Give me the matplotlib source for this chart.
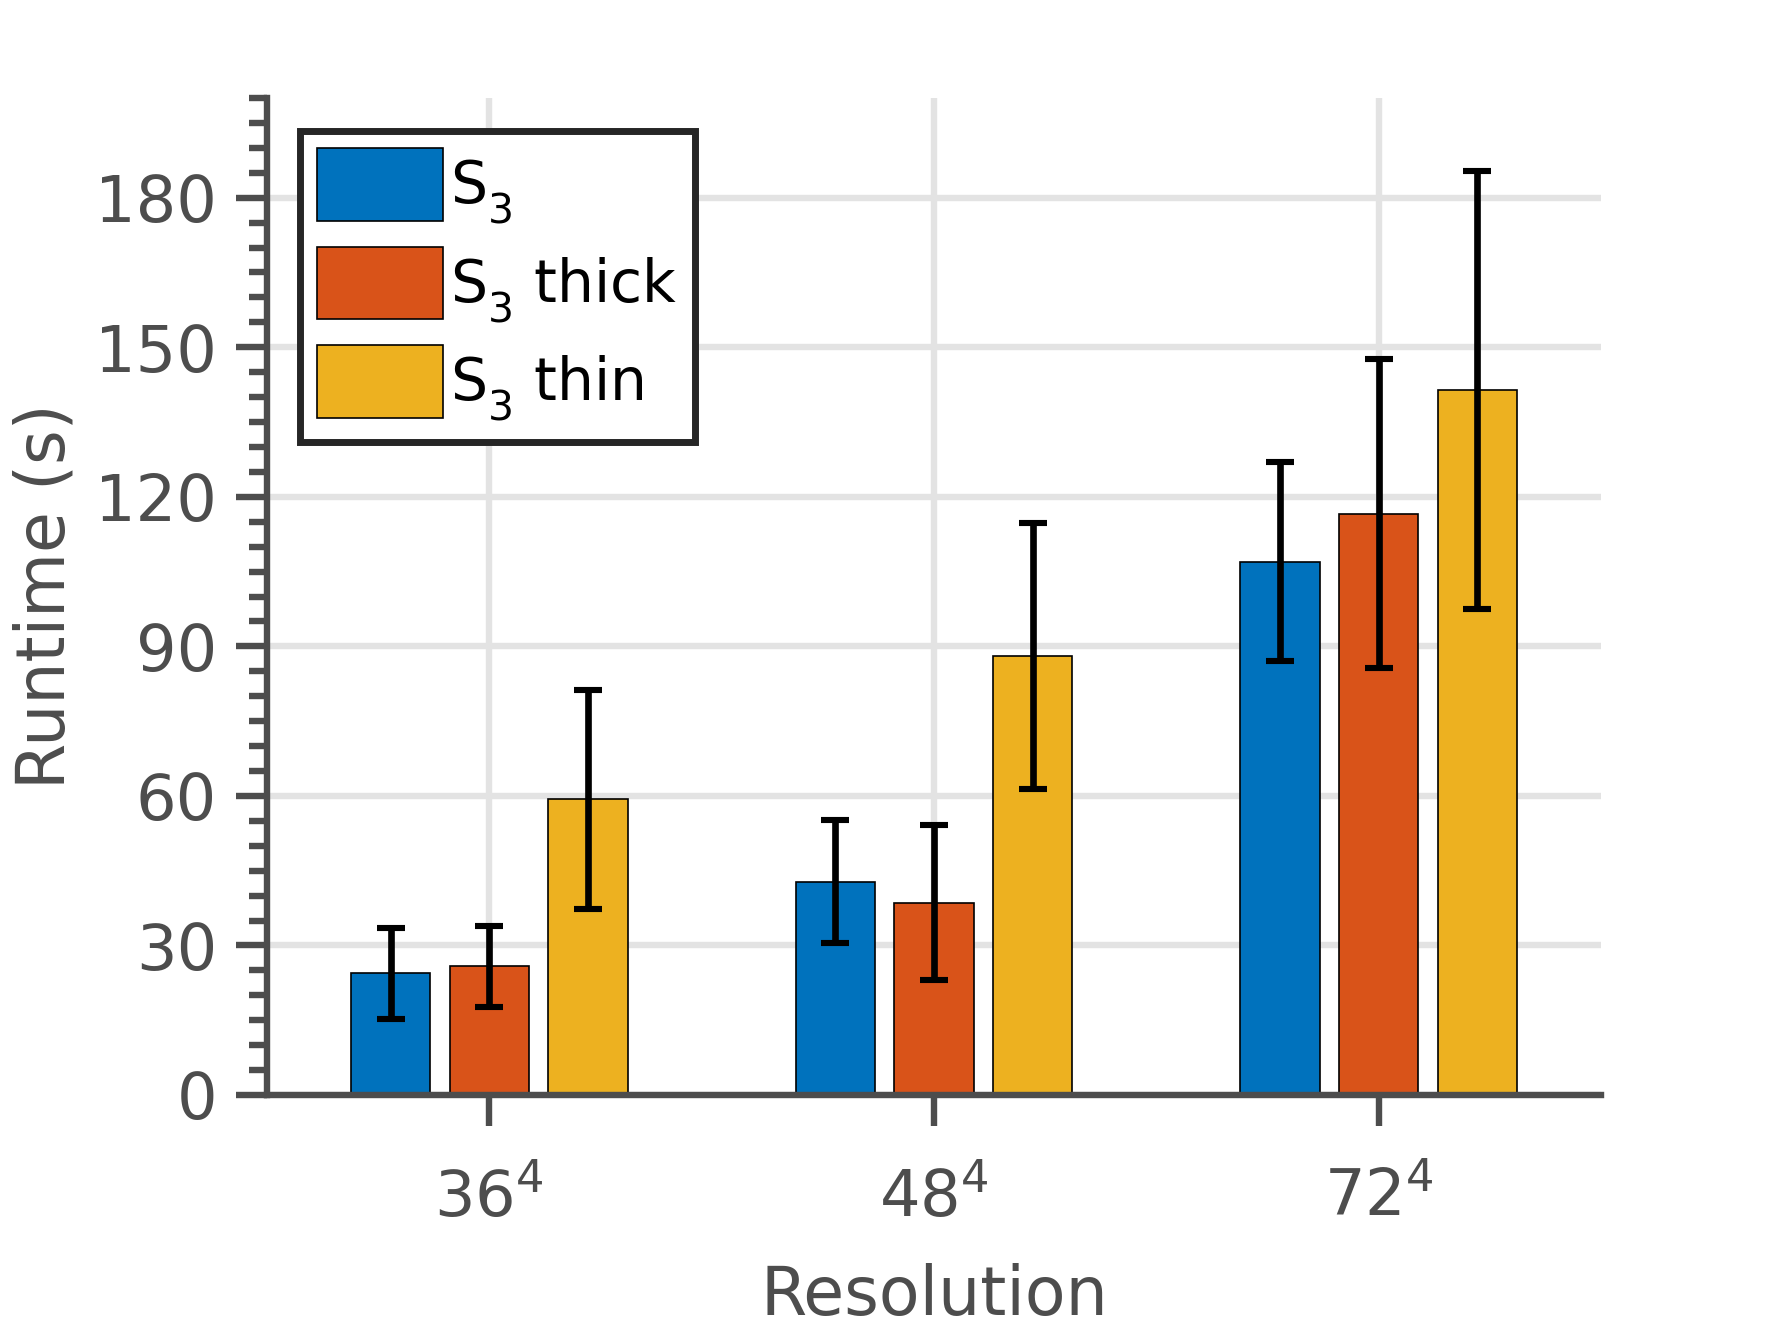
import numpy as np
import matplotlib
matplotlib.use("Agg")
import matplotlib.pyplot as plt
from matplotlib.ticker import MultipleLocator

try:
    import matplotlib._mathtext as _mt
    _mt.DejaVuSansFontConstants.sub1 = 0.65
    _mt.DejaVuSansFontConstants.sub2 = 0.65
except Exception:
    pass

categories = ['$36^4$', '$48^4$', '$72^4$']
series = ['$\\mathregular{S_3}$', '$\\mathregular{S_3}$ thick', '$\\mathregular{S_3}$ thin']
s3_mean = [24.4, 42.8, 107.0]
s3_err = [9.2, 12.3, 20.0]
thick_mean = [25.8, 38.6, 116.6]
thick_err = [8.2, 15.5, 31.0]
thin_mean = [59.3, 88.0, 141.4]
thin_err = [22.0, 26.7, 44.0]
colors = ['#0072BD', '#D95319', '#EDB120']

gray = '#4d4d4d'
fig = plt.figure(figsize=(8.84, 6.63), dpi=200)
ax = fig.add_axes([267/1768, 1 - 1095/1326, (1601-267)/1768, (1095-98)/1326])

x = np.arange(1, len(categories) + 1)
offsets = [-0.222, 0.0, 0.222]
width = 0.178
all_means = [s3_mean, thick_mean, thin_mean]
all_errs = [s3_err, thick_err, thin_err]
for i in range(3):
    ax.bar(x + offsets[i], all_means[i], width, color=colors[i], edgecolor='black',
           linewidth=0.6, label=series[i], zorder=2)
    ax.errorbar(x + offsets[i], all_means[i], yerr=all_errs[i], fmt='none', ecolor='black',
                elinewidth=2.4, capsize=4.9, capthick=2.2, zorder=3)

ax.set_xlim(0.5, 3.5)
ax.set_ylim(0, 200)
ax.set_xticks(x)
ax.set_xticklabels(categories)
ax.yaxis.set_major_locator(MultipleLocator(30))
ax.yaxis.set_minor_locator(MultipleLocator(5))

ax.grid(True, which='major', color='#e3e3e3', linewidth=2.3, zorder=0)
ax.set_axisbelow(True)

for s in ['top', 'right']:
    ax.spines[s].set_visible(False)
for s in ['left', 'bottom']:
    ax.spines[s].set_color(gray)
    ax.spines[s].set_linewidth(2.3)

ax.tick_params(axis='y', which='major', direction='out', length=11, width=2.3,
               color=gray, labelcolor=gray, labelsize=23, pad=7)
ax.tick_params(axis='y', which='minor', direction='out', length=6.5, width=2.3, color=gray)
ax.tick_params(axis='x', which='major', direction='out', length=11, width=2.3,
               color=gray, labelcolor=gray, labelsize=23, pad=15)
ax.tick_params(axis='x', which='minor', bottom=False)

ax.set_ylabel('Runtime (s)', fontsize=24, color=gray, labelpad=6)
ax.set_xlabel('Resolution', fontsize=24, color=gray, labelpad=12)

leg = ax.legend(loc='upper left', bbox_to_anchor=(0.0247, 0.967), borderaxespad=0,
                fontsize=21, handlelength=2.15, handleheight=1.53, handletextpad=0.12,
                labelspacing=0.34, borderpad=0.3, fancybox=False, framealpha=1)
leg.get_frame().set_edgecolor('#262626')
leg.get_frame().set_linewidth(2.5)

fig.savefig('out.png', dpi=200)
